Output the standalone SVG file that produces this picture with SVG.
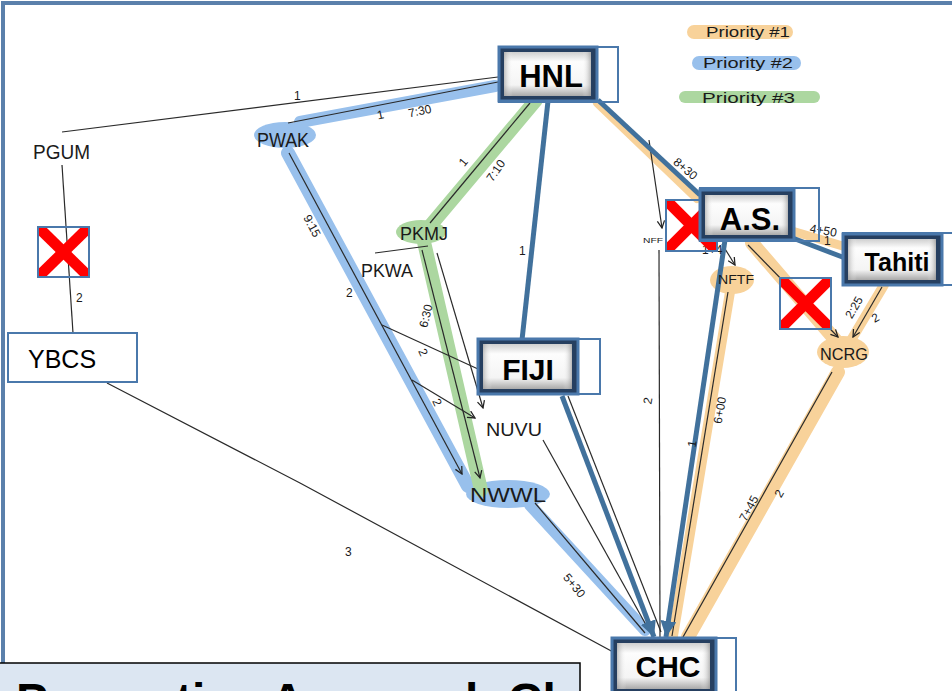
<svg xmlns="http://www.w3.org/2000/svg" width="952" height="691" viewBox="0 0 952 691">
<style>
.thin{stroke:#2a2a2a;stroke-width:1.2;fill:none}
.blu{stroke:#41719c;stroke-width:5;fill:none}
.hb{stroke:#98c0ec;stroke-linecap:round;fill:none}
.hg{stroke:#acd7a0;stroke-linecap:round;fill:none}
.ho{stroke:#f8d29a;stroke-linecap:round;fill:none}
.hw{font-family:"Liberation Sans",Arial,sans-serif;fill:#1a1a1a}
.lbl{font-family:"Liberation Sans",Arial,sans-serif;fill:#1a1a1a;font-size:12px}
.bt{font-family:"Liberation Sans",Arial,sans-serif;font-weight:bold;fill:#000;text-anchor:middle}
.outer{fill:none;stroke:#4a78ab;stroke-width:2}
.bframe{fill:#263f60;stroke:#4a78ab;stroke-width:3}
.face{fill:url(#faceV)}
.face2{fill:url(#faceH)}
.xb{fill:none;stroke:#4a78ab;stroke-width:2}
.xr{stroke:#ff0000;stroke-width:11;fill:none}
</style>
<defs>
<linearGradient id="faceV" x1="0" y1="0" x2="0" y2="1">
<stop offset="0" stop-color="#cfcfcf"/>
<stop offset="0.22" stop-color="#fdfdfd"/>
<stop offset="0.75" stop-color="#f4f4f4"/>
<stop offset="1" stop-color="#a9a9a9"/>
</linearGradient>
<linearGradient id="faceH" x1="0" y1="0" x2="1" y2="0">
<stop offset="0" stop-color="#9a9a9a" stop-opacity="0.6"/>
<stop offset="0.1" stop-color="#ffffff" stop-opacity="0"/>
<stop offset="0.9" stop-color="#ffffff" stop-opacity="0"/>
<stop offset="1" stop-color="#8a8a8a" stop-opacity="0.6"/>
</linearGradient>
<marker id="va" viewBox="0 0 10 10" refX="9" refY="5" markerWidth="9" markerHeight="9" orient="auto" markerUnits="userSpaceOnUse">
<path d="M1,1 L9,5 L1,9" fill="none" stroke="#222" stroke-width="1.4"/>
</marker>
<marker id="ba" viewBox="0 0 10 10" refX="10" refY="5" markerWidth="16" markerHeight="16" orient="auto" markerUnits="userSpaceOnUse">
<path d="M0,0 L10,5 L0,10 z" fill="#41719c"/>
</marker>
<clipPath id="c1"><rect x="38" y="227" width="51" height="50"/></clipPath>
<clipPath id="c2"><rect x="666" y="200" width="51" height="51"/></clipPath>
<clipPath id="c3"><rect x="780" y="278" width="51" height="51"/></clipPath>
</defs>

<rect x="0" y="0" width="952" height="691" fill="#fff"/>
<path d="M3,663 V3 H952" fill="none" stroke="#5b80ab" stroke-width="4"/>

<g id="legend">
<line class="ho" x1="694" y1="32" x2="786" y2="32" stroke-width="14"/>
<line class="hb" x1="699" y1="63" x2="794" y2="63" stroke-width="14"/>
<line class="hg" x1="685" y1="97" x2="814" y2="97" stroke-width="12"/>
<text class="hw" x="706" y="37" font-size="15" textLength="84" lengthAdjust="spacingAndGlyphs">Priority #1</text>
<text class="hw" x="703" y="68" font-size="15" textLength="90" lengthAdjust="spacingAndGlyphs">Priority #2</text>
<text class="hw" x="702" y="103" font-size="15" textLength="93" lengthAdjust="spacingAndGlyphs">Priority #3</text>
</g>

<g id="highlights">
<ellipse cx="285" cy="135" rx="31" ry="13" fill="#98c0ec"/>
<line class="hb" x1="300" y1="122" x2="495" y2="86" stroke-width="12"/>
<line class="hb" x1="288" y1="153" x2="468" y2="486" stroke-width="14"/>
<ellipse cx="508" cy="494" rx="42" ry="14" fill="#98c0ec"/>
<line class="hb" x1="530" y1="505" x2="645" y2="630" stroke-width="12"/>
<ellipse cx="421" cy="232" rx="25" ry="12" fill="#acd7a0"/>
<line class="hg" x1="425" y1="232" x2="536" y2="100" stroke-width="14"/>
<line class="hg" x1="424" y1="242" x2="481" y2="490" stroke-width="14"/>
<line class="ho" x1="597" y1="103" x2="697" y2="199" stroke-width="8"/>
<line class="ho" x1="792" y1="231" x2="846" y2="247" stroke-width="9"/>
<ellipse cx="732" cy="280" rx="22" ry="14" fill="#f8d29a"/>
<line class="ho" x1="730" y1="292" x2="673" y2="636" stroke-width="10"/>
<line class="ho" x1="752" y1="243" x2="838" y2="343" stroke-width="14"/>
<line class="ho" x1="884" y1="285" x2="850" y2="342" stroke-width="10"/>
<ellipse cx="843" cy="352" rx="26" ry="16" fill="#f8d29a"/>
<line class="ho" x1="838" y1="372" x2="688" y2="637" stroke-width="14"/>
</g>

<g id="connectors">
<line class="thin" x1="62" y1="132" x2="498" y2="77"/>
<line class="thin" x1="288" y1="123" x2="498" y2="82"/>
<line class="thin" x1="289" y1="153" x2="462" y2="474" marker-end="url(#va)"/>
<line class="thin" x1="430" y1="223" x2="530" y2="103"/>
<line class="thin" x1="422" y1="250" x2="480" y2="478" marker-end="url(#va)"/>
<line class="thin" x1="437" y1="253" x2="483" y2="408" marker-end="url(#va)"/>
<line class="thin" x1="375" y1="253" x2="428" y2="246"/>
<line class="thin" x1="382" y1="325" x2="478" y2="369"/>
<line class="thin" x1="412" y1="380" x2="475" y2="418" marker-end="url(#va)"/>
<line class="thin" x1="543" y1="440" x2="650" y2="632"/>
<line class="thin" x1="568" y1="396" x2="661" y2="632"/>
<line class="thin" x1="535" y1="503" x2="645" y2="633"/>
<polyline class="thin" points="107,383 300,483 615,653"/>
<line class="thin" x1="62" y1="165" x2="73" y2="333"/>
<line class="thin" x1="649" y1="140" x2="662" y2="228" marker-end="url(#va)"/>
<line class="thin" x1="659" y1="250" x2="660" y2="638"/>
<line class="thin" x1="722" y1="244" x2="735" y2="265" marker-end="url(#va)"/>
<line class="thin" x1="728" y1="292" x2="672" y2="636"/>
<line class="thin" x1="748" y1="245" x2="838" y2="337" marker-end="url(#va)"/>
<line class="thin" x1="882" y1="287" x2="853" y2="337" marker-end="url(#va)"/>
<line class="thin" x1="832" y1="372" x2="683" y2="637"/>
<line class="blu" x1="548" y1="101" x2="522" y2="340"/>
<line class="blu" x1="598" y1="100" x2="700" y2="195"/>
<line class="blu" x1="790" y1="237" x2="845" y2="258"/>
<line class="blu" x1="725" y1="240" x2="666" y2="637" marker-end="url(#ba)"/>
<line class="blu" x1="562" y1="396" x2="654" y2="637" marker-end="url(#ba)"/>
</g>

<g id="edge-labels">
<text class="lbl" x="294" y="100">1</text>
<text class="lbl" x="377" y="119" transform="rotate(-12 380 114)">1</text>
<text class="lbl" x="408" y="115" font-size="11" transform="rotate(-12 420 110)">7:30</text>
<text class="lbl" x="459" y="166" transform="rotate(-50 463 161)">1</text>
<text class="lbl" x="495" y="175" font-size="13" text-anchor="middle" transform="rotate(-55 495 170)">7:10</text>
<text class="lbl" x="519" y="255">1</text>
<text class="lbl" x="312" y="230" font-size="13" text-anchor="middle" transform="rotate(62 312 226)">9:15</text>
<text class="lbl" x="346" y="297" font-size="13">2</text>
<text class="lbl" x="426" y="320" font-size="13" text-anchor="middle" transform="rotate(-76 426 316)">6:30</text>
<text class="lbl" x="420" y="356" font-size="11" transform="rotate(65 423 352)">2</text>
<text class="lbl" x="434" y="406" font-size="11" transform="rotate(65 437 402)">2</text>
<text class="lbl" x="644" y="404" font-size="13" transform="rotate(-80 648 400)">2</text>
<text class="lbl" x="686" y="173" font-size="14" text-anchor="middle" transform="rotate(40 686 168)">8+30</text>
<text class="lbl" x="810" y="235" font-size="11" transform="rotate(10 826 230)">4+50</text>
<text class="lbl" x="824" y="245" font-size="7">1</text>
<text class="lbl" x="855" y="311" font-size="8" text-anchor="middle" transform="rotate(-60 855 308)">2:25</text>
<text class="lbl" x="872" y="322" font-size="11" transform="rotate(-30 875 318)">2</text>
<text class="lbl" x="702" y="254" font-size="7">1+4</text>
<text class="lbl" x="719" y="415" font-size="15" text-anchor="middle" transform="rotate(-80 719 410)">6+00</text>
<text class="lbl" x="689" y="448" font-size="11" transform="rotate(-80 692 444)">1</text>
<text class="lbl" x="748" y="513" font-size="14" text-anchor="middle" transform="rotate(-62 748 508)">7+45</text>
<text class="lbl" x="776" y="498" font-size="12" transform="rotate(-60 779 494)">2</text>
<text class="lbl" x="575" y="590" font-size="15" text-anchor="middle" transform="rotate(50 575 585)">5+30</text>
<text class="lbl" x="345" y="556" font-size="16">3</text>
<text class="lbl" x="76" y="302" font-size="12">2</text>
</g>

<g id="PGUM"><text class="hw" x="33" y="159" font-size="21" textLength="57" lengthAdjust="spacingAndGlyphs">PGUM</text></g>
<g id="PWAK"><text class="hw" x="257" y="147" font-size="20" textLength="52" lengthAdjust="spacingAndGlyphs">PWAK</text></g>
<g id="PKMJ"><text class="hw" x="400" y="240" font-size="18" textLength="48" lengthAdjust="spacingAndGlyphs">PKMJ</text></g>
<g id="PKWA"><text class="hw" x="361" y="277" font-size="19" textLength="52" lengthAdjust="spacingAndGlyphs">PKWA</text></g>
<g id="NUVU"><text class="hw" x="486" y="436" font-size="18" textLength="56" lengthAdjust="spacingAndGlyphs">NUVU</text></g>
<g id="NWWL"><text class="hw" x="470" y="502" font-size="20" textLength="76" lengthAdjust="spacingAndGlyphs">NWWL</text></g>
<g id="NFF"><text class="hw" x="643" y="243" font-size="8" textLength="20" lengthAdjust="spacingAndGlyphs">NFF</text></g>
<g id="NFTF"><text class="hw" x="718" y="284" font-size="13" textLength="36" lengthAdjust="spacingAndGlyphs">NFTF</text></g>
<g id="NCRG"><text class="hw" x="820" y="360" font-size="16" textLength="48" lengthAdjust="spacingAndGlyphs">NCRG</text></g>

<g id="YBCS">
<rect x="8" y="333" width="129" height="49" fill="#fff" stroke="#4a78ab" stroke-width="2"/>
<text x="28" y="368" font-family="Liberation Sans,Arial,sans-serif" font-size="25" fill="#000">YBCS</text>
</g>

<g id="cancel-1">
<g clip-path="url(#c1)"><line class="xr" x1="38" y1="227" x2="89" y2="277"/><line class="xr" x1="89" y1="227" x2="38" y2="277"/></g>
<rect class="xb" x="38" y="227" width="51" height="50"/>
</g>
<g id="cancel-2">
<g clip-path="url(#c2)"><line class="xr" x1="666" y1="200" x2="717" y2="251"/><line class="xr" x1="717" y1="200" x2="666" y2="251"/></g>
<rect class="xb" x="666" y="200" width="51" height="51"/>
</g>
<g id="cancel-3">
<g clip-path="url(#c3)"><line class="xr" x1="780" y1="278" x2="831" y2="329"/><line class="xr" x1="831" y1="278" x2="780" y2="329"/></g>
<rect class="xb" x="780" y="278" width="51" height="51"/>
</g>

<g id="HNL">
<rect class="outer" x="499" y="47" width="119" height="55"/>
<rect class="bframe" x="499" y="47" width="98" height="54"/>
<rect class="face" x="504" y="52" width="87" height="44"/>
<rect class="face2" x="504" y="52" width="87" height="44"/>
<text class="bt" x="551" y="87" font-size="31">HNL</text>
</g>
<g id="AS">
<rect class="outer" x="700" y="188" width="119" height="53"/>
<rect class="bframe" x="700" y="190" width="94" height="50"/>
<rect class="face" x="705" y="195" width="83" height="40"/>
<rect class="face2" x="705" y="195" width="83" height="40"/>
<text class="bt" x="750" y="230" font-size="31">A.S.</text>
</g>
<g id="Tahiti">
<rect class="outer" x="843" y="233" width="125" height="52"/>
<rect class="bframe" x="843" y="234" width="99" height="51"/>
<rect class="face" x="848" y="239" width="88" height="41"/>
<rect class="face2" x="848" y="239" width="88" height="41"/>
<text class="bt" x="897" y="271" font-size="25">Tahiti</text>
</g>
<g id="FIJI">
<rect class="outer" x="478" y="339" width="122" height="55"/>
<rect class="bframe" x="478" y="339" width="100" height="55"/>
<rect class="face" x="483" y="344" width="89" height="45"/>
<rect class="face2" x="483" y="344" width="89" height="45"/>
<text class="bt" x="528" y="380" font-size="30">FIJI</text>
</g>
<g id="CHC">
<rect class="outer" x="612" y="638" width="124" height="60"/>
<rect class="bframe" x="612" y="638" width="104" height="60"/>
<rect class="face" x="617" y="643" width="93" height="46"/>
<rect class="face2" x="617" y="643" width="93" height="46"/>
<text class="bt" x="668" y="677" font-size="30">CHC</text>
</g>

<g id="title-box">
<rect x="-2" y="663" width="582" height="40" fill="#dce6f2" stroke="#000" stroke-width="1.5"/>
<text x="16" y="717" font-family="Liberation Sans,Arial,sans-serif" font-weight="bold" font-size="48" fill="#000">Preventive Approach Ch</text>
</g>
</svg>
